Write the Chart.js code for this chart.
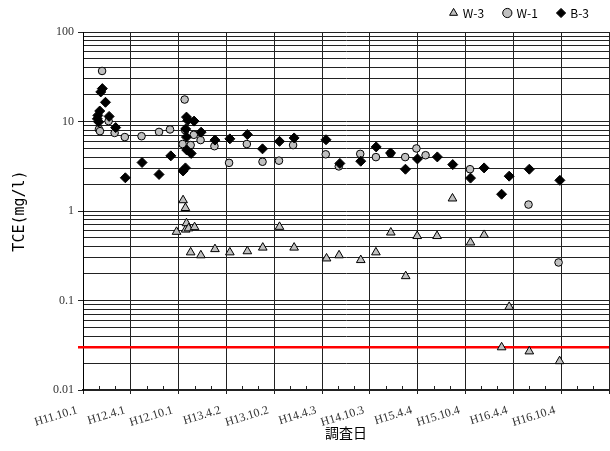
<!DOCTYPE html>
<html><head><meta charset="utf-8">
<script src="https://cdn.jsdelivr.net/npm/chart.js@4/dist/chart.umd.min.js"></script>
<style>html,body{margin:0;padding:0;background:#fff}</style>
</head><body>
<canvas id="c" width="610" height="451"></canvas>
<script>
// X positions are days since H11.10.1 (1999-10-01); axis major unit 183 days
const xTickDays = [0,183,366,549,732,915,1098,1281,1464,1647,1830,2013];
const xTickLabels = ['H11.10.1','H12.4.1','H12.10.1','H13.4.2','H13.10.2','H14.4.3','H14.10.3','H15.4.4','H15.10.4','H16.4.4','H16.10.4',''];
const xMinorDays = [61,122,244,305,427,488,610,671,793,854,976,1037,1159,1220,1342,1403,1525,1586,1708,1769,1891,1952];

const yGridValues = [0.01,0.02,0.03,0.04,0.05,0.06,0.07,0.08,0.09,
  0.1,0.2,0.3,0.4,0.5,0.6,0.7,0.8,0.9,
  1,2,3,4,5,6,7,8,9,
  10,20,30,40,50,60,70,80,90,100];
const yLabelValues = [0.01,0.1,1,10,100];
const yLabelTexts = ['0.01','0.1','1','10','100'];
const limitValue = 0.03;

const w3Days = [358,383,392,393,396,404,412,427,451,505,562,629,688,752,808,932,980,1063,1121,1178,1235,1279,1355,1414,1483,1535,1602,1631,1708,1824];
const w3Values = [0.585,1.32,1.08,0.62,0.73,0.64,0.345,0.66,0.32,0.375,0.345,0.355,0.39,0.665,0.39,0.295,0.32,0.283,0.345,0.575,0.187,0.525,0.525,1.38,0.445,0.54,0.030,0.085,0.027,0.021];

const w1Days = [61,65,73,98,121,160,224,291,333,381,389,391,412,424,450,503,559,627,687,750,804,929,979,1061,1121,1177,1233,1276,1311,1481,1705,1820];
const w1Values = [8.2,7.8,36.7,10.1,7.45,6.7,6.85,7.65,8.15,5.6,17.6,8.0,5.45,7.1,6.2,5.3,3.45,5.6,3.55,3.65,5.45,4.3,3.15,4.35,4.0,4.4,4.0,5.0,4.2,2.93,1.18,0.266];

const b3Days = [55,57,60,64,68,74,86,100,125,162,226,291,336,383,392,393,396,396,397,401,414,425,452,505,562,629,687,752,808,930,983,1063,1122,1177,1234,1280,1356,1415,1483,1535,1602,1631,1708,1825];
const b3Values = [10.7,11.7,9.9,13.1,21.4,23.3,16.4,11.4,8.55,2.35,3.48,2.56,4.13,2.8,3.03,8.25,11.2,6.7,4.8,10.3,4.4,10.1,7.6,6.2,6.4,7.15,4.95,6.0,6.55,6.25,3.4,3.6,5.2,4.45,2.93,3.82,4.02,3.3,2.33,3.03,1.54,2.45,2.93,2.2];

const pts = (xs, ys) => xs.map((x, i) => ({x, y: ys[i]}));
const isDecade = v => Math.abs(Math.log10(v) - Math.round(Math.log10(v))) < 1e-9;

const extras = {
  id: 'extras',
  beforeInit(chart) {
    const lg = chart.legend;
    const fit = lg.fit;
    lg.fit = function () { fit.call(this); this.height = 32; };
    const draw = lg.draw;
    lg.draw = function () { const c = this.ctx; c.save(); c.translate(0, -13); draw.call(this); c.restore(); };
  },
  beforeDatasetsDraw(chart) {
    const {ctx, chartArea, scales: {x, y}} = chart;
    ctx.save();
    ctx.strokeStyle = '#222'; ctx.lineWidth = 1;
    xMinorDays.forEach(d => {
      const px = Math.round(x.getPixelForValue(d)) + 0.5;
      ctx.beginPath(); ctx.moveTo(px, chartArea.bottom); ctx.lineTo(px, chartArea.bottom - 4); ctx.stroke();
    });
    const py = y.getPixelForValue(limitValue);
    ctx.strokeStyle = '#ff0000'; ctx.lineWidth = 2.5;
    ctx.beginPath(); ctx.moveTo(chartArea.left - 5, py); ctx.lineTo(chartArea.right, py); ctx.stroke();
    ctx.restore();
  }
};

new Chart(document.getElementById('c'), {
  type: 'scatter',
  data: {
    datasets: [
      {label: 'W-3', data: pts(w3Days, w3Values), pointStyle: 'triangle', pointRadius: 5, pointHoverRadius: 5,
       backgroundColor: '#c0c0c0', borderColor: '#000', borderWidth: 1, order: 3},
      {label: 'W-1', data: pts(w1Days, w1Values), pointStyle: 'circle', pointRadius: 3.8, pointHoverRadius: 3.8,
       backgroundColor: '#c0c0c0', borderColor: '#000', borderWidth: 1, order: 2},
      {label: 'B-3', data: pts(b3Days, b3Values), pointStyle: 'rectRot', pointRadius: 5, pointHoverRadius: 5,
       backgroundColor: '#000', borderColor: '#000', borderWidth: 1, order: 1}
    ]
  },
  options: {
    responsive: false,
    devicePixelRatio: 1,
    animation: false,
    layout: {autoPadding: false, padding: {left: 0, right: 1, top: 0, bottom: 0}},
    plugins: {
      tooltip: {enabled: false},
      legend: {
        position: 'top', align: 'end',
        labels: {
          usePointStyle: true, boxWidth: 6.5, boxHeight: 6.5, padding: 20,
          color: '#000', font: {family: "'Noto Sans CJK JP'", size: 12},
          sort: (a, b) => a.datasetIndex - b.datasetIndex
        }
      }
    },
    scales: {
      x: {
        type: 'linear', min: 0, max: 2013,
        afterBuildTicks: s => { s.ticks = xTickDays.map(v => ({value: v})); },
        afterFit: s => { s.height = 61; s.paddingLeft = 0; s.paddingRight = 0; },
        ticks: {
          autoSkip: false, minRotation: 17, maxRotation: 17, padding: 9, labelOffset: -6,
          color: '#333', font: {family: "'Liberation Serif'", size: 12},
          callback: (v, i) => xTickLabels[i]
        },
        grid: {color: '#222', lineWidth: 1, tickLength: 4, tickColor: '#222'},
        border: {color: '#222', width: 2},
        title: {display: true, text: '調査日', color: '#000',
          font: {family: "'Noto Sans CJK JP'", size: 14}, padding: {top: 0, bottom: 10}}
      },
      y: {
        type: 'logarithmic', min: 0.01, max: 100,
        afterBuildTicks: s => { s.ticks = yGridValues.map(v => ({value: v})); },
        afterFit: s => { s.width = 83; },
        ticks: {
          autoSkip: false, padding: 4, color: '#333',
          font: {family: "'Liberation Serif'", size: 12},
          callback: v => { const k = yLabelValues.findIndex(t => Math.abs(t - v) < t * 1e-6); return k >= 0 ? yLabelTexts[k] : ''; }
        },
        grid: {color: '#222', lineWidth: 1, tickLength: 5,
          tickColor: c => (c.tick && isDecade(c.tick.value)) ? '#222' : 'rgba(0,0,0,0)'},
        border: {color: '#000', width: 1},
        title: {display: true, text: 'TCE(mg/l)', color: '#000',
          font: {family: "'DejaVu Sans Mono'", size: 15}, padding: {top: 11, bottom: 0}}
      }
    }
  },
  plugins: [extras]
});
</script>
</body></html>
